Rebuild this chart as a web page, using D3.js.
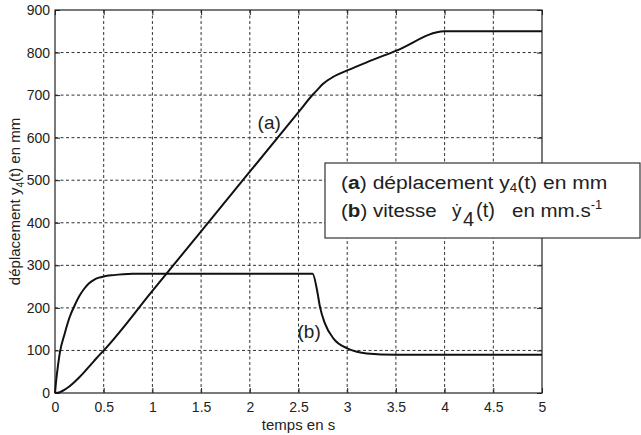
<!DOCTYPE html>
<html>
<head>
<meta charset="utf-8">
<script src="https://cdn.jsdelivr.net/npm/d3@7"></script>
<style>
  body { margin: 0; background: #fff; }
  text { font-family: "Liberation Sans", Arial, sans-serif; fill: #222; }
</style>
</head>
<body>
<div id="my_dataviz"></div>
<script>
// data
var xTicks = [0, 0.5, 1, 1.5, 2, 2.5, 3, 3.5, 4, 4.5, 5];
var yTicks = [0, 100, 200, 300, 400, 500, 600, 700, 800, 900];

// (a) displacement y4(t) in mm
var tA = [0, 0.05, 0.1, 0.15, 0.2, 0.25, 0.3, 0.35, 0.4, 0.45, 0.5, 1, 1.5, 2, 2.5, 2.65, 2.7, 2.75, 2.8, 2.85, 2.9, 3, 3.2, 3.5, 4, 5];
var yA = [0, 2, 8, 16, 26, 37, 49, 62, 75, 88, 100, 240, 380, 520, 660, 702, 714, 726, 735, 742, 748, 758, 777, 804, 850, 850];

// (b) velocity in mm/s
var tB = [0, 0.01, 0.02, 0.05, 0.1, 0.15, 0.2, 0.25, 0.3, 0.35, 0.4, 0.45, 0.5, 0.6, 0.7, 0.8, 2.645, 2.69, 2.72, 2.77, 2.86, 3, 3.1, 3.2, 3.5, 5];
var yB = [0, 25, 45, 95, 140, 178, 205, 228, 245, 258, 266, 271, 274, 277, 279, 280, 280, 242, 203, 164, 128, 105, 97, 93, 90, 90];

// set the dimensions and margins of the graph
var margin = { top: 10, right: 99, bottom: 42, left: 55 },
  width = 641 - margin.left - margin.right,
  height = 435 - margin.top - margin.bottom;

var root = d3.select("#my_dataviz")
  .append("svg")
  .attr("width", 641)
  .attr("height", 435);

var svg = root.append("g")
  .attr("transform", "translate(" + margin.left + "," + margin.top + ")");

var x = d3.scaleLinear().domain([0, 5]).range([0, width]);
var y = d3.scaleLinear().domain([0, 900]).range([height, 0]);

// dashed grid
svg.append("g")
  .selectAll("line")
  .data(xTicks.slice(1, -1))
  .enter()
  .append("line")
  .attr("x1", d => x(d)).attr("x2", d => x(d))
  .attr("y1", 0).attr("y2", height)
  .attr("stroke", "#333")
  .attr("stroke-dasharray", "3,2.5");
svg.append("g")
  .selectAll("line")
  .data(yTicks.slice(1, -1))
  .enter()
  .append("line")
  .attr("y1", d => y(d)).attr("y2", d => y(d))
  .attr("x1", 0).attr("x2", width)
  .attr("stroke", "#333")
  .attr("stroke-dasharray", "3,2.5");

// axes, ticks pointing inward
var fmt = d => String(d);
var gx = svg.append("g")
  .attr("transform", "translate(0," + height + ")")
  .call(d3.axisBottom(x).tickValues(xTicks).tickFormat(fmt).tickSizeInner(-5).tickSizeOuter(0).tickPadding(9));
var gy = svg.append("g")
  .call(d3.axisLeft(y).tickValues(yTicks).tickFormat(fmt).tickSizeInner(-5).tickSizeOuter(0).tickPadding(5));
var gt = svg.append("g")
  .call(d3.axisTop(x).tickValues(xTicks).tickFormat("").tickSizeInner(-5).tickSizeOuter(0));
var gr = svg.append("g")
  .attr("transform", "translate(" + width + ",0)")
  .call(d3.axisRight(y).tickValues(yTicks).tickFormat("").tickSizeInner(-5).tickSizeOuter(0));

[gx, gy, gt, gr].forEach(function (g) {
  g.select(".domain").remove();
  g.selectAll("line").attr("stroke", "#222");
  g.selectAll("text").style("font-size", "14px").style("font-family", "\"Liberation Sans\", Arial, sans-serif").attr("fill", "#222");
});

// box
svg.append("rect")
  .attr("width", width)
  .attr("height", height)
  .attr("fill", "none")
  .attr("stroke", "#222")
  .attr("stroke-width", 1.2);

// curves
var line = d3.line()
  .x(d => x(d[0]))
  .y(d => y(d[1]))
  .curve(d3.curveMonotoneX);

svg.append("path")
  .datum(d3.zip(tA, yA))
  .attr("fill", "none")
  .attr("stroke", "#111")
  .attr("stroke-width", 2)
  .attr("d", line);

svg.append("path")
  .datum(d3.zip(tB, yB))
  .attr("fill", "none")
  .attr("stroke", "#111")
  .attr("stroke-width", 2)
  .attr("d", line);

// curve labels
svg.append("text")
  .attr("x", x(2.08)).attr("y", y(620))
  .style("font-size", "19px")
  .text("(a)");
svg.append("text")
  .attr("x", x(2.49)).attr("y", y(130))
  .style("font-size", "19px")
  .text("(b)");

// axis titles
root.append("text")
  .attr("x", margin.left + width / 2)
  .attr("y", 430)
  .attr("text-anchor", "middle")
  .style("font-size", "15px")
  .text("temps en s");

var yl = root.append("text")
  .attr("transform", "translate(20," + (margin.top + height / 2) + ") rotate(-90)")
  .attr("text-anchor", "middle")
  .style("font-size", "15px");
yl.append("tspan").text("déplacement y");
yl.append("tspan").attr("dy", 4).style("font-size", "10px").text("4");
yl.append("tspan").attr("dy", -4).text("(t) en mm");

// legend
var lg = root.append("g");
lg.append("rect")
  .attr("x", 325).attr("y", 163)
  .attr("width", 315).attr("height", 75)
  .attr("fill", "#fff")
  .attr("stroke", "#333")
  .attr("stroke-width", 1.2);

// first line, slightly widened like the original
var l1 = lg.append("text")
  .attr("transform", "translate(341,189) scale(1.11,1)")
  .style("font-size", "19px");
l1.append("tspan").text("(");
l1.append("tspan").style("font-weight", "bold").text("a");
l1.append("tspan").text(") déplacement y");
l1.append("tspan").attr("dy", 3).style("font-size", "12px").text("4");
l1.append("tspan").attr("dy", -3).text("(t) en mm");

// second line, pieces placed like the original
var l2 = lg.append("g").style("font-size", "19px");
var t2 = l2.append("text").attr("transform", "translate(341,217) scale(1.08,1)");
t2.append("tspan").text("(");
t2.append("tspan").style("font-weight", "bold").text("b");
t2.append("tspan").text(") vitesse");
l2.append("text").attr("x", 452).attr("y", 217).text("ẏ");
l2.append("text").attr("x", 463).attr("y", 226).style("font-size", "20px").text("4");
l2.append("text").attr("x", 476).attr("y", 217).style("font-size", "20px").text("(t)");
var t3 = l2.append("text").attr("transform", "translate(512,217) scale(1.08,1)");
t3.append("tspan").text("en mm.s");
t3.append("tspan").attr("dy", -8).style("font-size", "12px").text("-1");
</script>
</body>
</html>
